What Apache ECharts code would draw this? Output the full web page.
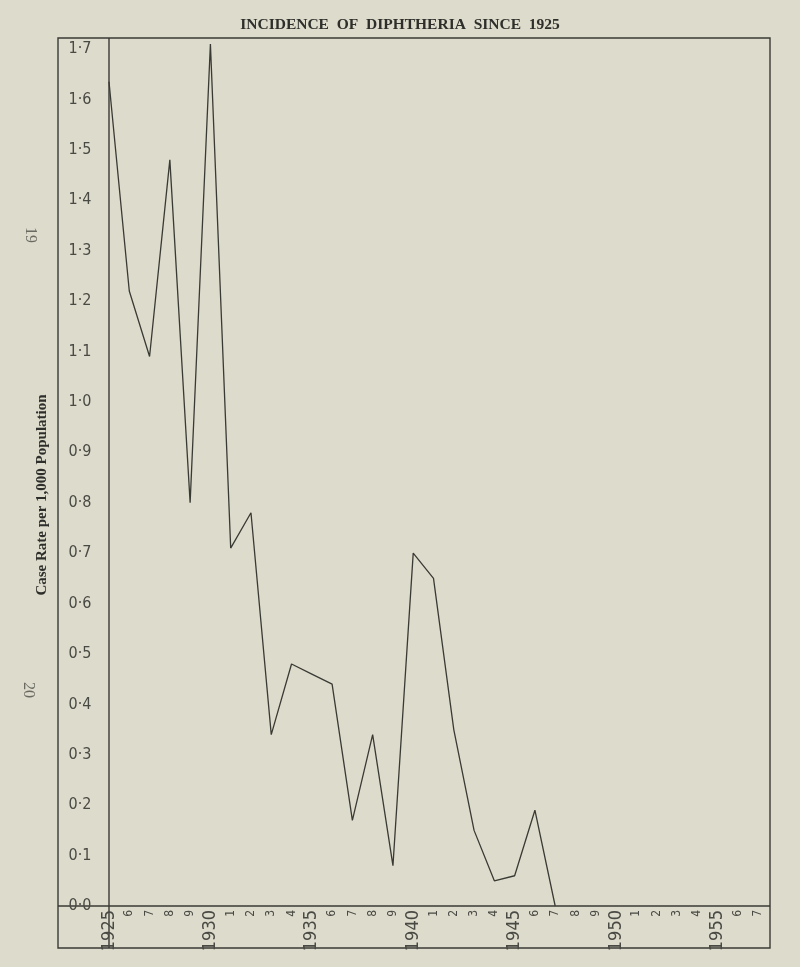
<!DOCTYPE html>
<html>
<head>
<meta charset="utf-8">
<script src="https://cdn.jsdelivr.net/npm/echarts@6/dist/echarts.min.js"></script>
<style>
html,body{margin:0;padding:0;background:#dddbcc;}
#c{width:800px;height:967px;}
</style>
</head>
<body>
<div id="c"></div>
<script>
// ---- data ----
const years = [1925,1926,1927,1928,1929,1930,1931,1932,1933,1934,1935,1936,1937,1938,1939,1940,1941,1942,1943,1944,1945,1946,1947,1948,1949,1950,1951,1952,1953,1954,1955,1956,1957];
const xTickLabels = ['1925','6','7','8','9','1930','1','2','3','4','1935','6','7','8','9','1940','1','2','3','4','1945','6','7','8','9','1950','1','2','3','4','1955','6','7'];
const caseRate = [1.635,1.22,1.09,1.48,0.80,1.71,0.71,0.78,0.34,0.48,0.46,0.44,0.17,0.34,0.08,0.70,0.65,0.35,0.15,0.05,0.06,0.19,0.0,null,null,null,null,null,null,null,null,null,null];
const yTickLabels = ['0·0','0·1','0·2','0·3','0·4','0·5','0·6','0·7','0·8','0·9','1·0','1·1','1·2','1·3','1·4','1·5','1·6','1·7'];
const yAxisTitle = 'Case Rate per 1,000 Population';

const narrow = '"Liberation Sans Narrow","DejaVu Sans Condensed","Liberation Sans",sans-serif';
const serif = '"Liberation Serif","DejaVu Serif",serif';
const ink = '#3a3a34';

const chart = echarts.init(document.getElementById('c'), null, {renderer:'canvas'});
const G = {left:109, right:42, top:49, bottom:61};
const frame = {x1:58, y1:38, x2:770, y2:948};

chart.setOption({
  backgroundColor:'#dddbcc',
  animation:false,
  title:{
    text:'INCIDENCE  OF  DIPHTHERIA  SINCE  1925',
    left:'center', top:12,
    textStyle:{fontFamily:serif, fontWeight:'bold', fontSize:15.5, color:'#2e2e2a'}
  },
  grid:{left:G.left, right:G.right, top:G.top, bottom:G.bottom, containLabel:false},
  xAxis:{
    type:'category', data:years, boundaryGap:false,
    axisLine:{show:false}, axisTick:{show:false}, splitLine:{show:false},
    axisLabel:{
      interval:0, rotate:90, margin:4, color:'#4a4a44',
      formatter:function(v, i){ const t = xTickLabels[i]; return t.length>1 ? '{y|'+t+'}' : '{d|'+t+'}'; },
      rich:{
        y:{fontFamily:narrow, fontSize:18, color:'#4a4a44'},
        d:{fontFamily:narrow, fontSize:12, color:'#4a4a44'}
      }
    }
  },
  yAxis:{
    type:'value', min:0, max:1.7, interval:0.1,
    axisLine:{show:false}, axisTick:{show:false}, splitLine:{show:false},
    axisLabel:{
      margin:29, align:'center', color:'#4a4a44', fontFamily:narrow, fontSize:16,
      formatter:function(v){ return yTickLabels[Math.round(v*10)]; }
    }
  },
  series:[{
    type:'line', data:caseRate, showSymbol:false, symbol:'none', clip:false,
    connectNulls:false,
    lineStyle:{color:ink, width:1.3}
  }]
});

const o = chart.convertToPixel({gridIndex:0}, [0, 0]);
chart.setOption({
  graphic:[
    {type:'rect', silent:true, shape:{x:frame.x1, y:frame.y1, width:frame.x2-frame.x1, height:frame.y2-frame.y1},
     style:{fill:null, stroke:ink, lineWidth:1.4}},
    {type:'line', silent:true, shape:{x1:o[0], y1:frame.y1, x2:o[0], y2:frame.y2}, style:{stroke:ink, lineWidth:1.4}},
    {type:'line', silent:true, shape:{x1:frame.x1, y1:o[1], x2:frame.x2, y2:o[1]}, style:{stroke:ink, lineWidth:1.4}},
    {type:'text', silent:true, x:42, y:495, rotation:Math.PI/2,
     style:{text:yAxisTitle, fontFamily:serif, fontWeight:'bold', fontSize:15, fill:'#2e2e2a', align:'center', verticalAlign:'middle'}},
    {type:'text', silent:true, x:30, y:235, rotation:-Math.PI/2,
     style:{text:'19', fontFamily:serif, fontSize:16, fill:'#6a6a62', align:'center', verticalAlign:'middle'}},
    {type:'text', silent:true, x:28, y:690, rotation:-Math.PI/2,
     style:{text:'20', fontFamily:serif, fontSize:16, fill:'#6a6a62', align:'center', verticalAlign:'middle'}}
  ]
});
</script>
</body>
</html>
